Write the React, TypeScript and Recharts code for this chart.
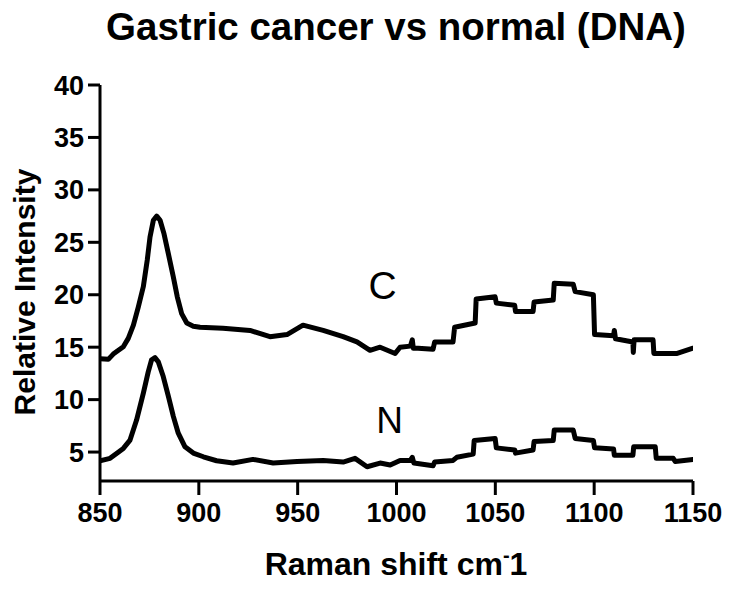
import React from 'react';
import { LineChart, Line, XAxis, YAxis, ReferenceDot } from 'recharts';

const chartTitle = 'Gastric cancer vs normal (DNA)';
const xTicks = [850, 900, 950, 1000, 1050, 1100, 1150];
const yTicks = [5, 10, 15, 20, 25, 30, 35, 40];

const cancerShift = [850, 854.2, 856.7, 861.8, 864.3, 866.9, 869.4, 871.9, 873.9, 875.3, 877, 878.7, 880.4, 882.4, 884.6, 887.1, 889.1, 891.3, 893.9, 897.2, 900.6, 912.2, 925.9, 936, 944.6, 952.7, 962.9, 973, 980, 986.6, 991.7, 999.3, 1001.8, 1007, 1008, 1008.5, 1010.9, 1018.5, 1019.3, 1028.6, 1029.4, 1039.8, 1040.3, 1049.9, 1050.5, 1059.8, 1060.2, 1069.1, 1069.6, 1079.3, 1079.8, 1089.4, 1090.4, 1099.6, 1100.2, 1109.8, 1110.2, 1110.8, 1119.6, 1119.8, 1120.2, 1129.8, 1130.2, 1142, 1150];
const cancerIntensity = [13.9, 13.84, 14.34, 15.04, 15.84, 17.1, 18.85, 20.76, 23.3, 25.5, 27.1, 27.5, 27.1, 25.8, 23.9, 21.7, 19.8, 18.2, 17.3, 17.0, 16.9, 16.8, 16.6, 16.0, 16.2, 17.1, 16.6, 16.0, 15.5, 14.7, 15.0, 14.4, 15.0, 15.1, 15.7, 14.9, 14.9, 14.8, 15.5, 15.5, 16.9, 17.3, 19.6, 19.8, 19.2, 19.0, 18.4, 18.4, 19.3, 19.5, 21.1, 21.0, 20.3, 20.0, 16.2, 16.1, 16.6, 15.8, 15.5, 14.5, 15.7, 15.7, 14.4, 14.4, 14.9];

const normalShift = [850, 855.1, 861.8, 865.2, 868.5, 871.9, 874.4, 876.1, 877.8, 879.5, 882, 884.6, 887.1, 889.6, 893, 897.2, 902.3, 909, 917.3, 927.4, 937.6, 949.7, 962.9, 973, 979, 985.1, 991.7, 996.8, 1001.8, 1007, 1008, 1008.8, 1018.5, 1019.3, 1028.6, 1030.5, 1038.8, 1039.3, 1049.9, 1050.5, 1059.8, 1060.2, 1069.1, 1069.6, 1079.3, 1079.8, 1089.4, 1090.4, 1099.6, 1100.2, 1109.8, 1110.2, 1119.6, 1120, 1130.9, 1131.4, 1140, 1141, 1150];
const normalIntensity = [4.17, 4.4, 5.35, 6.14, 8.05, 10.6, 12.65, 13.8, 14.0, 13.6, 12.2, 10.3, 8.4, 6.8, 5.5, 4.9, 4.55, 4.17, 3.95, 4.3, 3.95, 4.1, 4.2, 4.05, 4.4, 3.6, 3.95, 3.76, 4.2, 4.2, 4.5, 3.95, 3.7, 4.05, 4.2, 4.5, 4.8, 6.1, 6.3, 5.4, 5.2, 4.9, 5.2, 6.0, 6.1, 7.1, 7.1, 6.3, 6.1, 5.4, 5.3, 4.7, 4.7, 5.5, 5.5, 4.4, 4.4, 4.1, 4.3];

const cancerData = cancerShift.map((x, i) => ({ x, y: cancerIntensity[i] }));
const normalData = normalShift.map((x, i) => ({ x, y: normalIntensity[i] }));

const font = '"Liberation Sans", Arial, sans-serif';

export default function App() {
  const W = 716;
  const H = 573;
  return (
    <div style={{ position: 'relative', width: W, height: H, fontFamily: font }}>
      <LineChart
        width={W}
        height={H}
        margin={{ top: 77, right: 31, bottom: 60, left: 0 }}
        style={{ fontFamily: font }}
      >
        <XAxis
          type="number"
          dataKey="x"
          domain={[850, 1150]}
          ticks={xTicks}
          allowDataOverflow
          height={40}
          tickSize={14}
          tickMargin={8}
          axisLine={{ stroke: '#000', strokeWidth: 3 }}
          tickLine={{ stroke: '#000', strokeWidth: 3 }}
          tick={{ fill: '#000', fontSize: 27, fontWeight: 'bold', fontFamily: font }}
        />
        <YAxis
          type="number"
          dataKey="y"
          domain={[2.24, 40]}
          ticks={yTicks}
          allowDataOverflow
          width={92}
          tickSize={12}
          tickMargin={4}
          axisLine={{ stroke: '#000', strokeWidth: 3 }}
          tickLine={{ stroke: '#000', strokeWidth: 3 }}
          tick={{ fill: '#000', fontSize: 27, fontWeight: 'bold', fontFamily: font }}
        />
        <Line
          data={cancerData}
          dataKey="y"
          type="linear"
          stroke="#000"
          strokeWidth={5}
          strokeLinecap="round"
          strokeLinejoin="round"
          dot={false}
          isAnimationActive={false}
        />
        <Line
          data={normalData}
          dataKey="y"
          type="linear"
          stroke="#000"
          strokeWidth={5}
          strokeLinecap="round"
          strokeLinejoin="round"
          dot={false}
          isAnimationActive={false}
        />
        <ReferenceDot
          x={993}
          y={20.9}
          r={0}
          fill="none"
          stroke="none"
          label={{ value: 'C', position: 'center', fontSize: 39, fill: '#000', fontFamily: font }}
        />
        <ReferenceDot
          x={996.5}
          y={8.1}
          r={0}
          fill="none"
          stroke="none"
          label={{ value: 'N', position: 'center', fontSize: 37, fill: '#000', fontFamily: font }}
        />
      </LineChart>
      <svg
        width={732}
        height={589}
        style={{ position: 'absolute', left: -8, top: -8, pointerEvents: 'none', overflow: 'visible' }}
      >
        <text x={396} y={40} textAnchor="middle" fontSize={38.5} fontWeight="bold" fontFamily={font} fill="#000">
          {chartTitle}
        </text>
        <text
          x={0}
          y={0}
          transform="translate(24,292) rotate(-90)"
          textAnchor="middle"
          dominantBaseline="central"
          fontSize={30}
          fontWeight="bold"
          fontFamily={font}
          fill="#000"
        >
          Relative Intensity
        </text>
        <text x={396} y={575} textAnchor="middle" fontSize={32} fontWeight="bold" fontFamily={font} fill="#000">
          Raman shift cm
          <tspan fontSize={20} dy={-13}>-</tspan>
          <tspan dy={13}>1</tspan>
        </text>
      </svg>
    </div>
  );
}
